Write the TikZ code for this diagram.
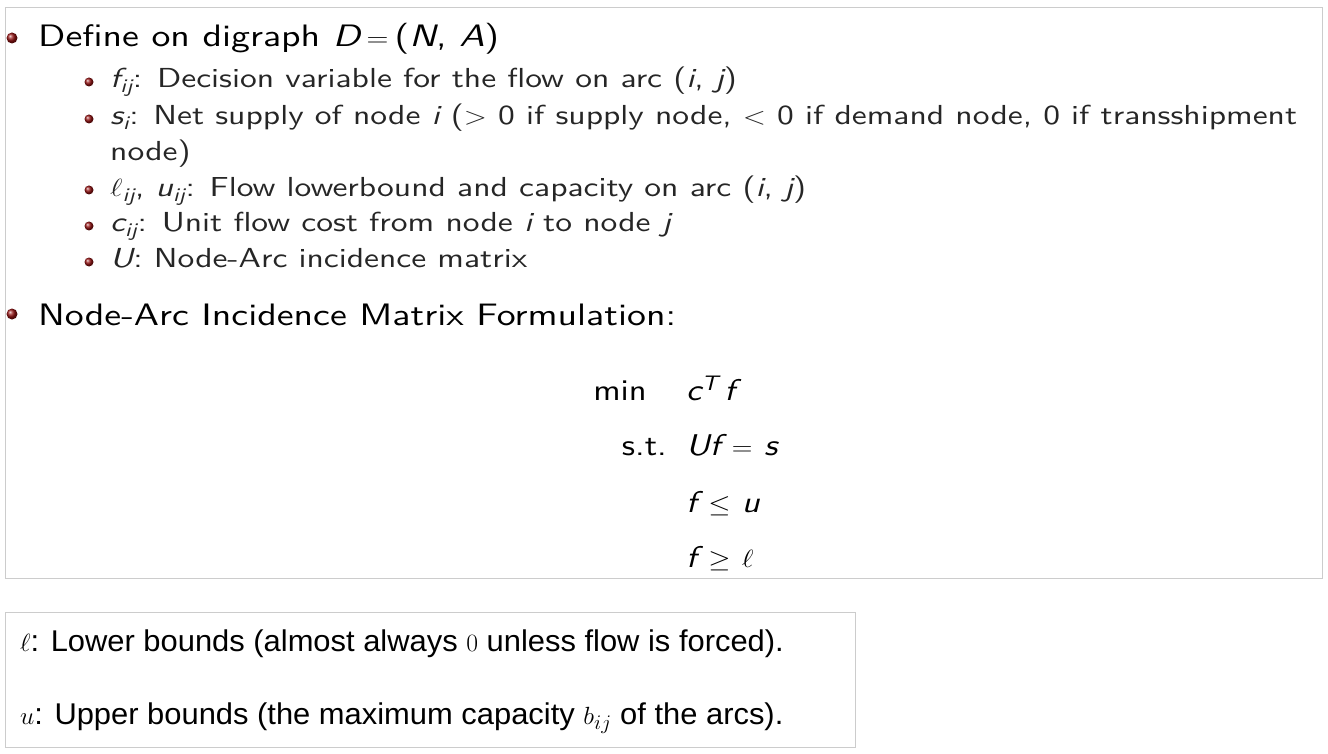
\documentclass[tikz,border=0pt]{standalone}
\usepackage{fontspec}
\usepackage{amsmath}
\newfontfamily\gsans{Liberation Sans}
\newfontfamily\lms{lmsans10-regular.otf}[ItalicFont=lmsans10-oblique.otf]
\definecolor{bul}{RGB}{150,20,20}
\newcommand{\sv}[1]{{\itshape #1}}
\newcommand{\sx}[2][1.22]{\scalebox{#1}[1]{#2}}
\begin{document}
\begin{tikzpicture}[x=1pt,y=-1pt,
  big/.style={anchor=base west,inner sep=0,font=\lms\fontsize{31}{36}\selectfont},
  sub/.style={anchor=base west,inner sep=0,font=\lms\fontsize{27.5}{32}\selectfont,text=black!85},
  eq/.style={inner sep=0,font=\lms\fontsize{30}{34}\selectfont},
  bl/.style={anchor=base west,inner sep=0,font=\gsans\fontsize{30}{35}\selectfont},
  ball/.style={circle,inner sep=0,minimum size=#1,ball color=bul,draw=none},
  frame/.style={draw=black!20,line width=1pt}]
\useasboundingbox (0,0) rectangle (1328,754);
\begin{scope}
\clip (5,8) rectangle (1322,578);
\node[ball=11pt] (b1) at (12,38) {};
\node[big] (t1) at (38,47) {\sx{Define on digraph \sv{D}\,$=$\,(\sv{N}, \sv{A})}};
\foreach \y/\n in {82/s1,119/s2,190/s3,226/s4,262/s5}{\node[ball=9pt] (\n b) at (89,\y) {};}
\node[sub] (s1) at (110,88) {\sx{\sv{f}$_{\textit{ij}}$: Decision variable for the flow on arc (\sv{i}, \sv{j})}};
\node[sub] (s2) at (110,125) {\sx{\sv{s}$_{\textit{i}}$: Net supply of node \sv{i} ($>$ 0 if supply node, $<$ 0 if demand node, 0 if transshipment}};
\node[sub] (s2b) at (110,161) {\sx{node)}};
\node[sub] (s3) at (110,197) {\sx{$\ell$$_{\textit{ij}}$, \sv{u}$_{\textit{ij}}$: Flow lowerbound and capacity on arc (\sv{i}, \sv{j})}};
\node[sub] (s4) at (110,232) {\sx{\sv{c}$_{\textit{ij}}$: Unit flow cost from node \sv{i} to node \sv{j}}};
\node[sub] (s5) at (110,268) {\sx{\sv{U}: Node-Arc incidence matrix}};
\node[ball=11pt] (b2) at (12,314) {};
\node[big] (t2) at (38,325) {\sx{Node-Arc Incidence Matrix Formulation:}};
\node[eq,anchor=base east] (m1) at (647,400) {\sx[1.15]{min}};
\node[eq,anchor=base east] (m2) at (667,455) {\sx[1.15]{s.t.}};
\node[eq,anchor=base west] (e1) at (686,400) {\sx[1.15]{\sv{c}$^{\textit{T}}$\,\sv{f}}};
\node[eq,anchor=base west] (e2) at (686,455) {\sx[1.15]{\sv{Uf} $=$ \sv{s}}};
\node[eq,anchor=base west] (e3) at (686,512) {\sx[1.15]{\sv{f} $\leq$ \sv{u}}};
\node[eq,anchor=base west] (e4) at (686,567) {\sx[1.15]{\sv{f} $\geq$ $\ell$}};
\end{scope}
\draw[frame] (5,8) rectangle (1322,578);
\draw[frame] (5,612) rectangle (855,747);
\node[bl] (l1) at (20,651) {\sx[1.03]{$\ell$: Lower bounds (almost always $0$ unless flow is forced).}};
\node[bl] (l2) at (20,724) {\sx[1.03]{$u$: Upper bounds (the maximum capacity $b_{ij}$ of the arcs).}};
\end{tikzpicture}
\end{document}
